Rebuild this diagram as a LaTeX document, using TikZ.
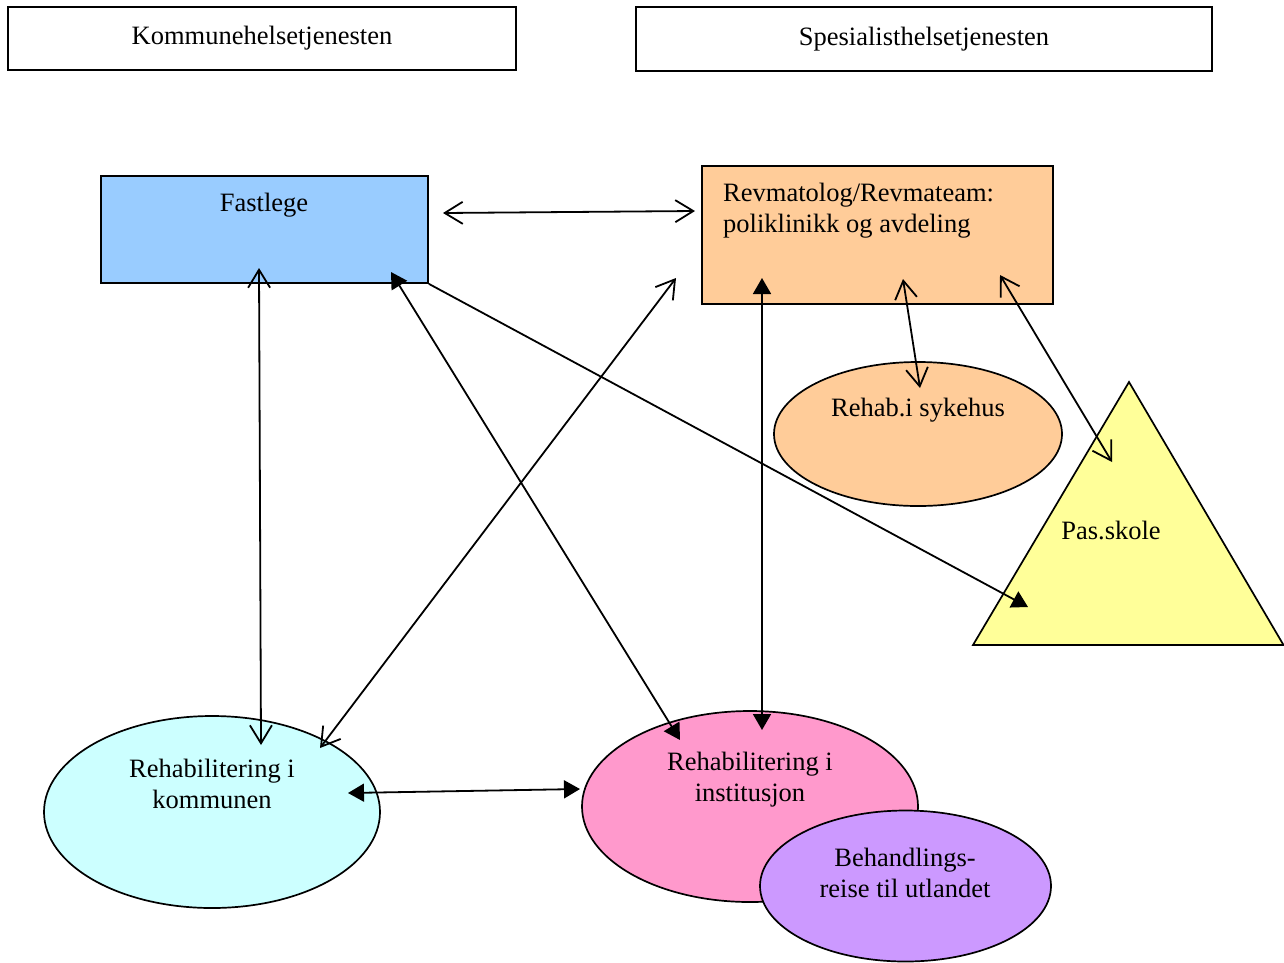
\documentclass[tikz,border=0pt]{standalone}
\usepackage{fontspec}
\setmainfont{Liberation Serif}
\usetikzlibrary{arrows.meta,shapes.geometric}
\definecolor{fastblue}{HTML}{99CCFF}
\definecolor{revorange}{HTML}{FFCC99}
\definecolor{skoleyellow}{HTML}{FFFF99}
\definecolor{komcyan}{HTML}{CCFFFF}
\definecolor{instpink}{HTML}{FF99CC}
\definecolor{reisepurple}{HTML}{CC99FF}
\tikzset{
  box/.style={draw, line width=1.7pt, inner sep=0pt},
  oval/.style={ellipse, draw, line width=1.7pt, inner sep=0pt},
  txt/.style={align=center, font=\fontsize{26.5}{31}\selectfont},
  openarr/.style={line width=1.8pt, {Straight Barb[length=18pt,width=22pt]}-{Straight Barb[length=18pt,width=22pt]}},
  fillarr/.style={line width=1.8pt, {Triangle[length=16pt,width=18pt]}-{Triangle[length=16pt,width=18pt]}},
  onearr/.style={line width=1.8pt, -{Triangle[length=16pt,width=18pt]}}
}
\begin{document}
\begin{tikzpicture}[x=1pt,y=-1pt]
\useasboundingbox (0,0) rectangle (1284,962);
% headers
\node[box, txt, minimum width=508pt, minimum height=63pt] (kommune) at (262,38.5) {Kommunehelsetjenesten};
\node[box, txt, minimum width=576pt, minimum height=64pt] (spesialist) at (924,39) {Spesialisthelsetjenesten};

% boxes and ovals
\node[box, fill=fastblue, minimum width=327pt, minimum height=107pt] (fast) at (264.5,229.5) {};
\node[txt] (fasttxt) at (264,205) {Fastlege};
\node[box, fill=revorange, minimum width=351pt, minimum height=138pt] (revma) at (877.5,235) {};
\node[txt, align=left, anchor=west, inner xsep=0pt] (revmatxt) at (723,210.5) {Revmatolog/Revmateam:\\poliklinikk og avdeling};
\node[oval, fill=revorange, minimum width=288pt, minimum height=144pt] (sykehus) at (918,434) {};
\node[txt] (sykehustxt) at (918,410) {Rehab.i sykehus};
\draw[line width=1.7pt, fill=skoleyellow] (1129,382) -- (1283.5,645) -- (973,645) -- cycle;
\node[txt] (skole) at (1111,530) {Pas.skole};
\node[oval, fill=komcyan, minimum width=336pt, minimum height=192pt] (kom) at (212,812) {};
\node[txt] (komtxt) at (212,784) {Rehabilitering i\\kommunen};
\node[oval, fill=instpink, minimum width=336pt, minimum height=191pt] (inst) at (750,806.5) {};
\node[txt] (insttxt) at (750,779.5) {Rehabilitering i\\institusjon};
\node[oval, fill=reisepurple, minimum width=291pt, minimum height=151pt] (reise) at (905.5,886) {};
\node[txt] (reisetxt) at (905,873) {Behandlings-\\reise til utlandet};

% arrow ends
\coordinate (fastR) at (443,213);
\coordinate (revmaL) at (695,211);
\coordinate (fastB) at (259,268);
\coordinate (komT) at (261,745);
\coordinate (revmaBL) at (676,278);
\coordinate (komTR) at (320,748);
\coordinate (fastBR) at (391,272);
\coordinate (instTL) at (680,740);
\coordinate (revmaB) at (762,278);
\coordinate (instT) at (762,730);
\coordinate (skoleL) at (1028,607);
\coordinate (revmaBM) at (903,279);
\coordinate (sykehusT) at (920,388);
\coordinate (revmaBR) at (1000,275);
\coordinate (skoleT) at (1112,462);
\coordinate (komR) at (348,793);
\coordinate (instL) at (580,789);

% connectors
\draw[openarr] (fastR) -- (revmaL);
\draw[openarr] (fastB) -- (komT);
\draw[openarr] (revmaBL) -- (komTR);
\draw[fillarr] (fastBR) -- (instTL);
\draw[fillarr] (revmaB) -- (instT);
\draw[onearr] (fast.south east) -- (skoleL);
\draw[openarr] (revmaBM) -- (sykehusT);
\draw[openarr] (revmaBR) -- (skoleT);
\draw[fillarr] (komR) -- (instL);
\end{tikzpicture}
\end{document}
